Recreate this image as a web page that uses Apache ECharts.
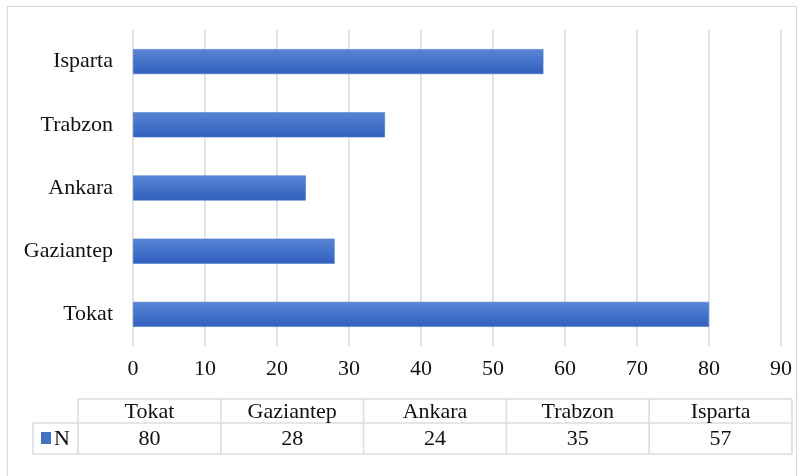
<!DOCTYPE html>
<html>
<head>
<meta charset="utf-8">
<script src="https://cdn.jsdelivr.net/npm/echarts@6/dist/echarts.min.js"></script>
<style>
  html, body { margin: 0; padding: 0; background: #fff; }
  #chart { width: 804px; height: 476px; }
</style>
</head>
<body>
<div id="chart"></div>
<script>
// Cities, bottom to top on the category axis (same order as the table columns)
const cities = ['Tokat', 'Gaziantep', 'Ankara', 'Trabzon', 'Isparta'];
// N per city
const counts = [80, 28, 24, 35, 57];
const seriesName = 'N';
const xTicks = { min: 0, max: 90, step: 10 };

const FONT = '"Liberation Serif", "Times New Roman", serif';
const FONT_SIZE = 22;
const TEXT_COLOR = '#111111';
const GRID_COLOR = '#dadde5';
const BAR_TOP = '#5a85d5';
const BAR_BOTTOM = '#2f60bd';

const chart = echarts.init(document.getElementById('chart'), null, { renderer: 'canvas' });

// Data table under the chart: header row of cities, one row of counts
const tbl = { left: 78, right: 792, keyLeft: 33, top: 399, mid: 423, bottom: 454 };
const colW = (tbl.right - tbl.left) / cities.length;
const lineStyle = { stroke: GRID_COLOR, lineWidth: 1.6 };
const tableEls = [];
function hLine(x1, x2, y) {
  tableEls.push({ type: 'line', shape: { x1, y1: y, x2, y2: y }, style: lineStyle, silent: true });
}
function vLine(x, y1, y2) {
  tableEls.push({ type: 'line', shape: { x1: x, y1, x2: x, y2 }, style: lineStyle, silent: true });
}
hLine(tbl.left, tbl.right, tbl.top);
hLine(tbl.keyLeft, tbl.right, tbl.mid);
hLine(tbl.keyLeft, tbl.right, tbl.bottom);
vLine(tbl.keyLeft, tbl.mid, tbl.bottom);
for (let i = 0; i <= cities.length; i++) {
  vLine(tbl.left + i * colW, tbl.top, tbl.bottom);
}
const cellFont = FONT_SIZE + 'px ' + FONT;
cities.forEach((c, i) => {
  const cx = tbl.left + (i + 0.5) * colW;
  tableEls.push({
    type: 'text', silent: true,
    style: { x: cx, y: (tbl.top + tbl.mid) / 2 + 1, text: c, align: 'center', verticalAlign: 'middle',
             font: cellFont, fill: TEXT_COLOR }
  });
  tableEls.push({
    type: 'text', silent: true,
    style: { x: cx, y: (tbl.mid + tbl.bottom) / 2 + 1, text: String(counts[i]), align: 'center', verticalAlign: 'middle',
             font: cellFont, fill: TEXT_COLOR }
  });
});
// Series key in the table
tableEls.push({
  type: 'rect', silent: true,
  shape: { x: 41, y: 432, width: 10, height: 12 },
  style: { fill: '#4472c4' }
});
tableEls.push({
  type: 'text', silent: true,
  style: { x: 54, y: (tbl.mid + tbl.bottom) / 2 + 1, text: seriesName, align: 'left', verticalAlign: 'middle',
           font: cellFont, fill: TEXT_COLOR }
});
// Chart area border
tableEls.push({
  type: 'rect', silent: true, z: -1,
  shape: { x: 7.5, y: 6.5, width: 789, height: 480 },
  style: { fill: 'none', stroke: '#d9d9d9', lineWidth: 1.2 }
});

chart.setOption({
  animation: false,
  backgroundColor: '#ffffff',
  grid: { left: 133, right: 23, top: 30, bottom: 130, containLabel: false },
  xAxis: {
    type: 'value',
    min: xTicks.min, max: xTicks.max, interval: xTicks.step,
    axisLine: { show: false },
    axisTick: { show: false },
    axisLabel: { fontFamily: FONT, fontSize: FONT_SIZE, color: TEXT_COLOR, margin: 12 },
    splitLine: { show: true, lineStyle: { color: GRID_COLOR, width: 1.6 } }
  },
  yAxis: {
    type: 'category',
    data: cities,
    axisLine: { show: false },
    axisTick: { show: false },
    axisLabel: { fontFamily: FONT, fontSize: FONT_SIZE, color: TEXT_COLOR, margin: 20 },
    splitLine: { show: false }
  },
  series: [{
    name: seriesName,
    type: 'bar',
    data: counts,
    barWidth: 25,
    itemStyle: {
      color: new echarts.graphic.LinearGradient(0, 0, 0, 1, [
        { offset: 0, color: BAR_TOP },
        { offset: 1, color: BAR_BOTTOM }
      ]),
      borderColor: '#4a78c8',
      borderWidth: 0.6
    }
  }],
  graphic: tableEls
});
</script>
</body>
</html>
